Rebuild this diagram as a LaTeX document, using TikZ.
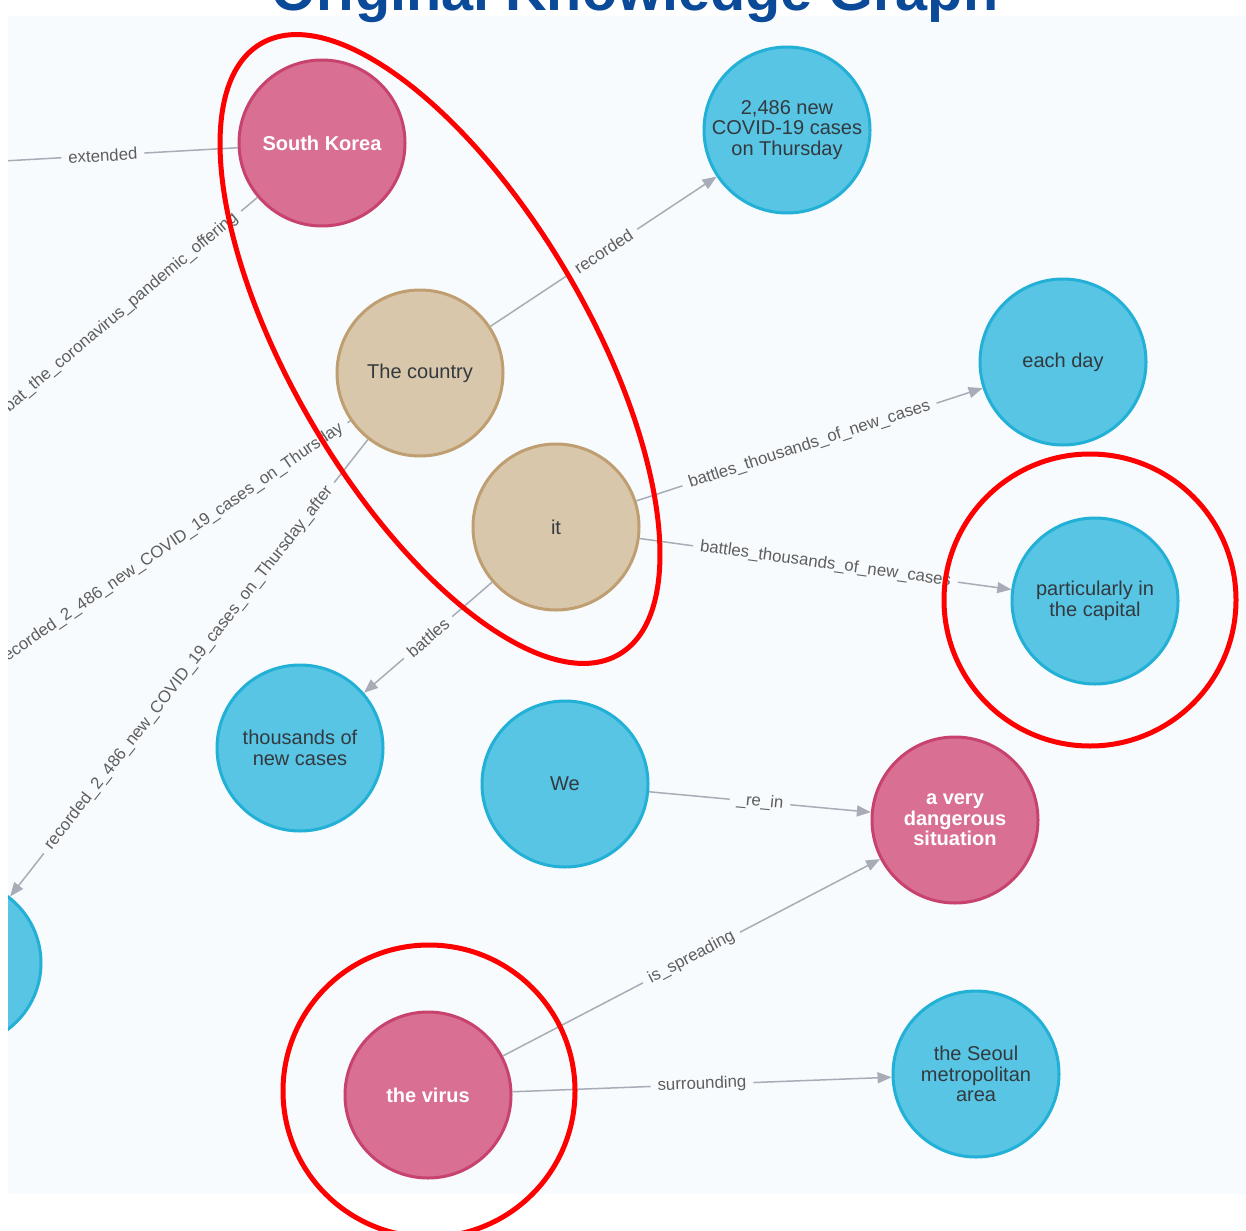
\documentclass[tikz,border=0pt]{standalone}
\usepackage{fontspec}
\setmainfont{Liberation Sans}
\usetikzlibrary{arrows.meta}

\definecolor{panel}{HTML}{F7FBFE}
\definecolor{bluefill}{HTML}{57C5E3}
\definecolor{blueline}{HTML}{22B0D6}
\definecolor{pinkfill}{HTML}{D97093}
\definecolor{pinkline}{HTML}{C8426E}
\definecolor{tanfill}{HTML}{D9C7AB}
\definecolor{tanline}{HTML}{BF9F72}
\definecolor{edgegrey}{HTML}{A8ACB6}
\definecolor{labelgrey}{HTML}{5E5E5E}
\definecolor{nodetext}{HTML}{33393F}
\definecolor{titleblue}{HTML}{0B4A99}

\begin{document}
\begin{tikzpicture}[x=0.5pt, y=-0.5pt,
    entity/.style={circle, minimum size=83pt, inner sep=0pt, line width=1.5pt,
        align=center, font=\fontsize{10}{10.25}\selectfont},
    bluenode/.style={entity, fill=bluefill, draw=blueline, text=nodetext},
    pinknode/.style={entity, fill=pinkfill, draw=pinkline, text=white,
        font=\fontsize{10}{10.25}\selectfont\bfseries},
    tannode/.style={entity, fill=tanfill, draw=tanline, text=nodetext},
    edge/.style={draw=edgegrey, line width=0.75pt},
    arrowedge/.style={edge, -{Triangle[length=7pt,width=5.5pt]}},
    elabel/.style={sloped, fill=panel, text=labelgrey, inner xsep=3.5pt, inner ysep=1pt,
        font=\fontsize{8.4}{10}\selectfont},
    redring/.style={draw=red, line width=2.5pt}]

    \useasboundingbox (0,0) rectangle (1246,1230);
    \clip (0,0) rectangle (1246,1230);
    \fill[panel] (8,16) rectangle (1246,1194);
    \node[anchor=base, text=titleblue, font=\fontsize{28.8}{30}\selectfont\bfseries]
        (title) at (635,11) {Original Knowledge Graph};

    \begin{scope}
        \clip (8,16) rectangle (1246,1194);

        % entities
        \node[pinknode] (korea) at (322,143) {South Korea};
        \node[bluenode] (cases) at (787,130) {2,486 new\\COVID-19 cases\\on Thursday};
        \node[tannode] (country) at (420,373) {The country};
        \node[bluenode] (eachday) at (1063,362) {each day};
        \node[tannode] (it) at (556,527) {it};
        \node[bluenode] (capital) at (1095,601) {particularly in\\the capital};
        \node[bluenode] (thousands) at (300,748) {thousands of\\new cases};
        \node[bluenode] (we) at (565,784) {We};
        \node[pinknode] (danger) at (955,820) {a very\\dangerous\\situation};
        \node[pinknode] (virus) at (428,1095) {the virus};
        \node[bluenode] (seoul) at (976,1074) {the Seoul\\metropolitan\\area};
        \node[bluenode] (offleft) at (-42,963) {};

        % free ends beyond the left edge
        \coordinate (extend) at (-32,163);
        \coordinate (combat) at (-15,427);
        \coordinate (record) at (-8,667);

        % relations
        \draw[edge] (korea) -- node[elabel] {extended} (extend);
        \draw[edge] (korea) -- node[elabel] {bat\_the\_coronavirus\_pandemic\_offering} (combat);
        \draw[edge] (country) -- node[elabel] {recorded\_2\_486\_new\_COVID\_19\_cases\_on\_Thursday} (record);
        \draw[arrowedge] (country) -- node[elabel] {recorded\_2\_486\_new\_COVID\_19\_cases\_on\_Thursday\_after} (offleft);
        \draw[arrowedge] (country) -- node[elabel] {recorded} (cases);
        \draw[arrowedge] (it) -- node[elabel] {battles\_thousands\_of\_new\_cases} (eachday);
        \draw[arrowedge] (it) -- node[elabel] {battles\_thousands\_of\_new\_cases} (capital);
        \draw[arrowedge] (it) -- node[elabel] {battles} (thousands);
        \draw[arrowedge] (we) -- node[elabel] {\_re\_in} (danger);
        \draw[arrowedge] (virus) -- node[elabel] {is\_spreading} (danger);
        \draw[arrowedge] (virus) -- node[elabel] {surrounding} (seoul);
    \end{scope}

    % highlights
    \draw[redring, rotate around={-59.6:(440,349)}] (440,349) ellipse [x radius=354, y radius=148];
    \draw[redring] (1090,600) circle [radius=146];
    \draw[redring] (429,1091) circle [radius=146];

\end{tikzpicture}
\end{document}
